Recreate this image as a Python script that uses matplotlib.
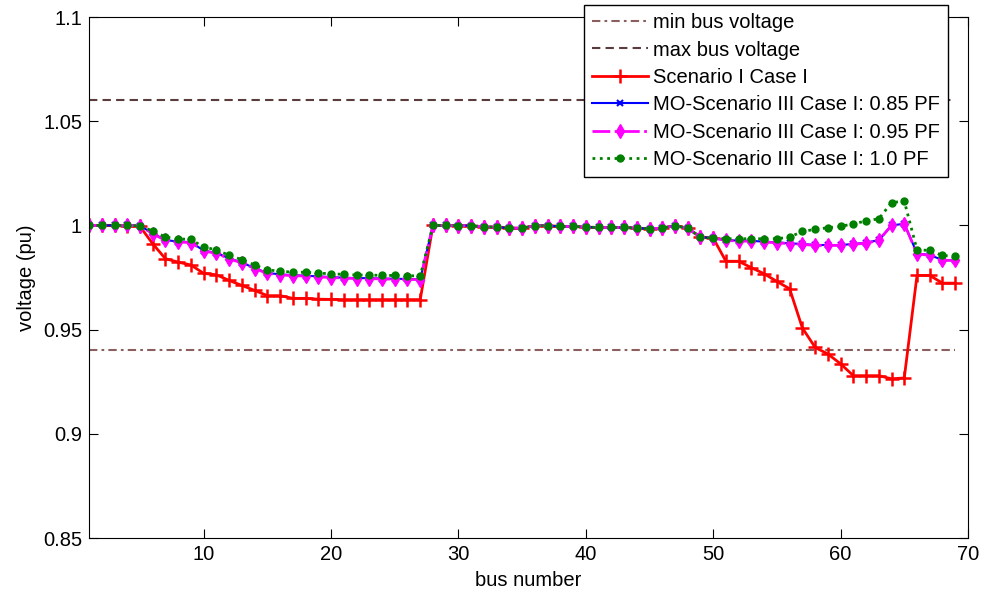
import matplotlib
matplotlib.use('Agg')
import matplotlib.pyplot as plt
import numpy as np

plt.rcParams['font.family'] = ['Liberation Sans', 'DejaVu Sans']
plt.rcParams['font.size'] = 14.5

# bus numbers of the 69-bus feeder
bus = np.arange(1, 70)

# voltage limits
v_min = 0.94
v_max = 1.06

# Scenario I Case I
v_s1 = [1.0, 1.0, 1.0, 0.9999, 0.9995, 0.9912, 0.984, 0.9824, 0.981, 0.977,
        0.9763, 0.9736, 0.9712, 0.9688, 0.9663, 0.9663, 0.965, 0.965, 0.9646, 0.9645,
        0.9644, 0.9644, 0.9644, 0.9644, 0.9644, 0.9644, 0.9644,
        1.0, 1.0, 0.9999, 0.9999, 0.9993, 0.9992, 0.9987, 0.9987, 0.9999, 0.9999,
        0.9995, 0.9995, 0.9992, 0.999, 0.999, 0.999, 0.9987, 0.9984, 0.9987, 0.9999,
        0.9986, 0.9944, 0.9939,
        0.9828, 0.9828, 0.9797, 0.9768, 0.9731, 0.9696, 0.9508, 0.9415, 0.9383, 0.9336,
        0.9279, 0.9279, 0.9279, 0.9264, 0.9268, 0.976, 0.976, 0.9723, 0.9723]

# MO-Scenario III Case I, 0.85 PF
v_085 = [1.0, 1.0, 1.0, 1.0, 0.9998, 0.9962, 0.993, 0.9922, 0.992, 0.9879,
         0.9868, 0.9842, 0.9822, 0.9795, 0.9772, 0.9765, 0.9761, 0.9759, 0.9755, 0.9752,
         0.9749, 0.9747, 0.9747, 0.9745, 0.9744, 0.9743, 0.9742,
         1.0, 1.0, 0.9999, 0.9999, 0.9993, 0.9992, 0.9987, 0.9987, 0.9999, 0.9999,
         0.9995, 0.9995, 0.9992, 0.999, 0.999, 0.999, 0.9987, 0.9984, 0.9987, 0.9999,
         0.9986, 0.9944, 0.9939,
         0.993, 0.9927, 0.9926, 0.9922, 0.9919, 0.9914, 0.9911, 0.9906, 0.9906, 0.9906,
         0.9911, 0.9917, 0.993, 1.0, 1.0008, 0.9866, 0.9858, 0.9834, 0.9834]

# MO-Scenario III Case I, 0.95 PF
v_095 = [1.0, 1.0, 1.0, 1.0, 0.9998, 0.996, 0.9928, 0.992, 0.9918, 0.9877,
         0.9866, 0.984, 0.982, 0.9793, 0.977, 0.9763, 0.9759, 0.9757, 0.9753, 0.975,
         0.9747, 0.9745, 0.9745, 0.9743, 0.9742, 0.9741, 0.974,
         1.0, 1.0, 0.9999, 0.9999, 0.9993, 0.9992, 0.9987, 0.9987, 0.9999, 0.9999,
         0.9995, 0.9995, 0.9992, 0.999, 0.999, 0.999, 0.9987, 0.9984, 0.9987, 0.9999,
         0.9986, 0.9944, 0.9939,
         0.9928, 0.9925, 0.9924, 0.992, 0.9917, 0.9912, 0.9909, 0.9904, 0.9904, 0.9904,
         0.9909, 0.9915, 0.9928, 1.0, 1.0008, 0.9864, 0.9856, 0.9832, 0.9832]

# MO-Scenario III Case I, 1.0 PF
v_100 = [1.0, 1.0, 1.0, 1.0, 0.9998, 0.9973, 0.9944, 0.9935, 0.9933, 0.9896,
         0.9883, 0.9856, 0.9836, 0.981, 0.9787, 0.978, 0.9776, 0.9775, 0.9771, 0.9768,
         0.9765, 0.9762, 0.9762, 0.976, 0.976, 0.9759, 0.9757,
         1.0, 1.0, 0.9999, 0.9999, 0.9993, 0.9992, 0.9987, 0.9987, 0.9999, 0.9999,
         0.9995, 0.9995, 0.9992, 0.999, 0.999, 0.999, 0.9987, 0.9984, 0.9987, 0.9999,
         0.9986, 0.9944, 0.9939,
         0.9936, 0.9936, 0.9936, 0.9936, 0.9936, 0.9944, 0.9971, 0.9981, 0.9989, 0.9995,
         1.0008, 1.0021, 1.0032, 1.0109, 1.0117, 0.9883, 0.988, 0.9856, 0.9851]

xticks = [10, 20, 30, 40, 50, 60, 70]
yticks = [0.85, 0.9, 0.95, 1.0, 1.05, 1.1]
ytick_labels = ['0.85', '0.9', '0.95', '1', '1.05', '1.1']

fig = plt.figure(figsize=(9.86, 5.99), dpi=100)
ax = fig.add_axes([0.0903, 0.1018, 0.8914, 0.8698])

ax.plot(bus, [v_min] * len(bus), color='#8c5f5f', lw=1.5, dashes=(4, 2, 1.3, 2),
        label='min bus voltage')
ax.plot(bus, [v_max] * len(bus), color='#5a3c3c', lw=1.5, dashes=(4, 2.5),
        label='max bus voltage')
ax.plot(bus, v_s1, color='red', lw=2, marker='+', ms=10, mew=1.8,
        label='Scenario I Case I')
ax.plot(bus, v_085, color='blue', lw=1.5, marker='x', ms=4, mew=1.5,
        label='MO-Scenario III Case I: 0.85 PF')
ax.plot(bus, v_095, color='magenta', lw=2, linestyle='-.', marker='d', ms=7,
        label='MO-Scenario III Case I: 0.95 PF')
ax.plot(bus, v_100, color='green', lw=2, linestyle=':', marker='o', ms=5,
        label='MO-Scenario III Case I: 1.0 PF')

ax.set_xlim(1, 70)
ax.set_ylim(0.85, 1.1)
ax.set_xticks(xticks)
ax.set_yticks(yticks)
ax.set_yticklabels(ytick_labels)
ax.tick_params(direction='in', top=True, right=True, length=6.5, pad=5,
               labelsize=14.5)
ax.set_xlabel('bus number', labelpad=5)
ax.set_ylabel('voltage (pu)', labelpad=5)

leg = ax.legend(loc='upper right', bbox_to_anchor=(948 / 986, 1 - 5 / 599),
                bbox_transform=fig.transFigure, borderaxespad=0, fancybox=False,
                edgecolor='black', framealpha=1, handlelength=2.8,
                handletextpad=0.25, labelspacing=0.42, fontsize=14.5,
                borderpad=0.4)
leg.get_frame().set_linewidth(1.0)

fig.savefig('out.png', dpi=100)
